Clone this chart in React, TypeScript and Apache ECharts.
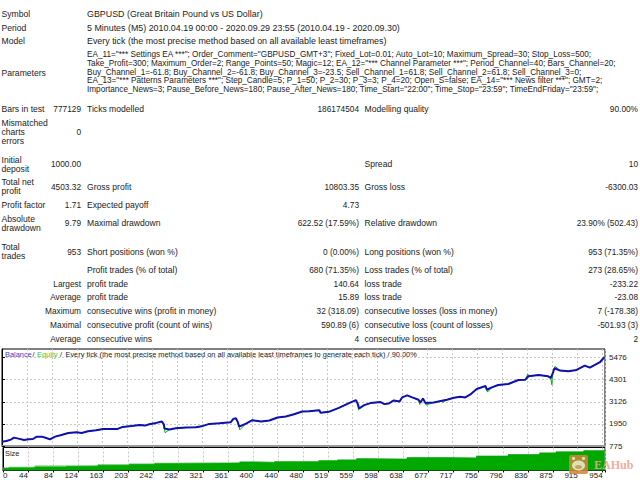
import React, { useEffect, useRef } from "react";
import * as echarts from "echarts";

const balanceTrades = [0,7,14,19,26,35,42,49,55,63,70,76,84,94,105,118,126,136,149,160,173,183,191,205,218,226,233,244,253,256,257,265,275,291,307,318,328,344,362,366,370,373,375,386,396,410,423,436,449,462,475,486,502,504,517,533,549,560,563,565,573,583,599,605,612,620,629,633,641,649,659,662,666,670,683,696,704,715,725,733,741,751,765,767,775,785,801,817,828,833,849,864,868,871,874,883,896,909,922,930,938,946,953];
const balanceValues = [1000,1041,1112,1219,1166,1095,1130,1148,1273,1273,1201,1130,1273,1362,1469,1504,1469,1558,1611,1682,1682,1682,1789,1843,1896,1860,1932,2003,2074,1932,1700,1647,1718,1753,1771,1843,1949,1985,2039,2217,2252,2056,1807,1967,2145,2074,2128,2288,2341,2466,2608,2626,2680,2537,2591,2804,3054,3214,3000,2769,2947,3054,3107,3000,3036,3196,3143,3356,3463,3356,3232,3089,3303,3054,3089,3178,3232,3339,3392,3356,3517,3802,3962,3766,3891,4015,4069,4283,4300,4479,4550,4479,4389,4603,4906,4781,4746,4817,5048,4941,5084,5227,5503];
const equityDipTrades = [258,376,564,661,671,697,768,832,870,875];
const equityDipValues = [1480,1630,2680,2980,2950,3090,3640,4600,4030,5010];

const sizeTrades = [0,9,50,100,150,200,240,265,330,375,400,430,500,530,560,570,640,700,750,800,850,876,920,953];
const sizeBase = [0.07,0.07,0.09,0.11,0.14,0.16,0.18,0.19,0.20,0.22,0.21,0.23,0.26,0.28,0.31,0.30,0.34,0.33,0.38,0.42,0.46,0.49,0.52,0.55];
const sizePeak = [0.07,0.10,0.13,0.14,0.16,0.18,0.20,0.21,0.21,0.24,0.23,0.25,0.27,0.29,0.32,0.31,0.35,0.34,0.39,0.43,0.47,0.50,0.53,0.56];

const xTickLabels = ["0","44","84","124","163","203","242","282","321","361","400","440","480","519","559","598","638","677","717","756","796","836","875","915","954"];
const yTickValues = [775,1950,3126,4301,5476];

const headerLabels = ["Symbol","Period","Model"];
const headerValues = [
  "GBPUSD (Great Britain Pound vs US Dollar)",
  "5 Minutes (M5) 2010.04.19 00:00 - 2020.09.29 23:55 (2010.04.19 - 2020.09.30)",
  "Every tick (the most precise method based on all available least timeframes)",
];
const parameterLines = [
  'EA_11="*** Settings EA ***"; Order_Comment="GBPUSD_GMT+3"; Fixed_Lot=0.01; Auto_Lot=10; Maximum_Spread=30; Stop_Loss=500;',
  'Take_Profit=300; Maximum_Order=2; Range_Points=50; Magic=12; EA_12="*** Channel Parameter ***"; Period_Channel=40; Bars_Channel=20;',
  "Buy_Channel_1=-61.8; Buy_Channel_2=-61.8; Buy_Channel_3=-23.5; Sell_Channel_1=61.8; Sell_Channel_2=61.8; Sell_Channel_3=0;",
  'EA_13="*** Patterns Parameters ***"; Step_Candle=5; P_1=50; P_2=30; P_3=3; P_4=20; Open_S=false; EA_14="*** News filter ***"; GMT=2;',
  'Importance_News=3; Pause_Before_News=180; Pause_After_News=180; Time_Start="22:00"; Time_Stop="23:59"; TimeEndFriday="23:59";',
];
const leftLabels: [string, number][] = [
  ["Parameters",72.5],["Bars in test",108.5],["Mismatched",122.5],["charts",131.5],["errors",140.5],
  ["Initial",160],["deposit",169],["Total net",182],["profit",191],["Profit factor",205],["Absolute",219],["drawdown",228],
  ["Total",247],["trades",256],
];
const col1Values: [string, number][] = [
  ["777129",108.5],["0",131.5],["1000.00",164],["4503.32",187],["1.71",205],["9.79",223],["953",252],
  ["Largest",284],["Average",297],["Maximum",311],["Maximal",325],["Average",339],
];
const col2Labels: [string, number][] = [
  ["Ticks modelled",108.5],["Gross profit",187],["Expected payoff",205],["Maximal drawdown",223],
  ["Short positions (won %)",252],["Profit trades (% of total)",270],["profit trade",284],["profit trade",297],
  ["consecutive wins (profit in money)",311],["consecutive profit (count of wins)",325],["consecutive wins",339],
];
const col2Values: [string, number][] = [
  ["186174504",108.5],["10803.35",187],["4.73",205],["622.52 (17.59%)",223],["0 (0.00%)",252],["680 (71.35%)",270],
  ["140.64",284],["15.89",297],["32 (318.09)",311],["590.89 (6)",325],["4",339],
];
const col3Labels: [string, number][] = [
  ["Modelling quality",108.5],["Spread",164],["Gross loss",187],["Relative drawdown",223],["Long positions (won %)",252],
  ["Loss trades (% of total)",270],["loss trade",284],["loss trade",297],["consecutive losses (loss in money)",311],
  ["consecutive loss (count of losses)",325],["consecutive losses",339],
];
const col3Values: [string, number][] = [
  ["90.00%",108.5],["10",164],["-6300.03",187],["23.90% (502.43)",223],["953 (71.35%)",252],["273 (28.65%)",270],
  ["-233.22",284],["-23.08",297],["7 (-178.38)",311],["-501.93 (3)",325],["2",339],
];

const FONT = '"Liberation Sans", sans-serif';
const FS_HEADER = 8.9;
const FS_LABEL = 8.6;
const FS_VALUE = 8.3;
const FS_PARAM = 8.2;
const FS_CHART = 7.4;
const FS_AXIS = 8;

const txt = (text: string, x: number, y: number, fontSize: number, align = "left", fill = "#222") => ({
  type: "text",
  x,
  y,
  silent: true,
  style: { text, fontFamily: FONT, fontSize, fill, align, verticalAlign: "middle" },
});

export default function App() {
  const ref = useRef<HTMLDivElement>(null);
  useEffect(() => {
    document.body.style.margin = "0";
    const chart = echarts.init(ref.current!, undefined, { renderer: "svg", width: 640, height: 480 });

    const balance = balanceTrades.map((t, i) => [t, balanceValues[i]]);
    const equity = [...balance, ...equityDipTrades.map((t, i) => [t, equityDipValues[i]])].sort((a, b) => a[0] - b[0]);

    const texts: any[] = [
      ...headerLabels.map((s, i) => txt(s, 1.5, [14, 27.5, 41][i], FS_LABEL)),
      ...headerValues.map((s, i) => txt(s, 87, [14, 27.5, 41][i], FS_HEADER)),
      ...parameterLines.map((s, i) => txt(s, 87, [54.5, 63.5, 72, 80.5, 89.5][i], FS_PARAM)),
      ...leftLabels.map(([s, y]) => txt(s, 1.5, y, FS_LABEL)),
      ...col1Values.map(([s, y]) => txt(s, 81, y, FS_VALUE, "right")),
      ...col2Labels.map(([s, y]) => txt(s, 87, y, FS_LABEL)),
      ...col2Values.map(([s, y]) => txt(s, 359, y, FS_VALUE, "right")),
      ...col3Labels.map(([s, y]) => txt(s, 364.5, y, FS_LABEL)),
      ...col3Values.map(([s, y]) => txt(s, 638, y, FS_VALUE, "right")),
      txt("Balance", 5, 354, FS_CHART, "left", "#3a3ac8"),
      txt("/", 32.5, 354, FS_CHART),
      txt("Equity", 37, 354, FS_CHART, "left", "#30cc30"),
      txt("/", 60, 354, FS_CHART),
      txt("Every tick (the most precise method based on all available least timeframes to generate each tick) / 90.00%", 65.5, 354, FS_CHART),
      txt("Size", 5, 453, FS_CHART),
    ];

    const watermark: any[] = [
      { type: "rect", z: 50, silent: true, shape: { x: 569, y: 455, width: 19, height: 19, r: 2 }, style: { fill: "#d2853a", opacity: 0.85 } },
      { type: "ellipse", z: 51, silent: true, shape: { cx: 578.5, cy: 465.5, rx: 6.5, ry: 5 }, style: { fill: "#d8e4b4" } },
      { type: "circle", z: 51, silent: true, shape: { cx: 573.5, cy: 458.5, r: 1.6 }, style: { fill: "#d8e4b4" } },
      { type: "circle", z: 51, silent: true, shape: { cx: 583.5, cy: 458.5, r: 1.6 }, style: { fill: "#d8e4b4" } },
      { type: "ellipse", z: 52, silent: true, shape: { cx: 578.5, cy: 467, rx: 3.5, ry: 2 }, style: { fill: "#c9a060" } },
      {
        type: "text", z: 52, silent: true, x: 594, y: 464.5,
        style: { text: "EAHub", fontFamily: '"Liberation Serif", serif', fontWeight: "bold", fontSize: 12, fill: "#f4a090", opacity: 0.9, align: "left", verticalAlign: "middle" },
      },
    ];

    const split = { show: true, lineStyle: { color: "#c8c8c8", type: [2, 2] as any, width: 1 } };

    chart.setOption({
      animation: false,
      backgroundColor: "#fff",
      textStyle: { fontFamily: FONT },
      graphic: [...texts, ...watermark],
      grid: [
        { left: 2, right: 35, top: 349, height: 97, show: true, borderColor: "#000", borderWidth: 1, backgroundColor: "#fff" },
        { left: 2, right: 35, top: 447.5, height: 23, show: true, borderColor: "#000", borderWidth: 1, backgroundColor: "#fff" },
      ],
      xAxis: [
        {
          gridIndex: 0, type: "value", min: 0, max: 954, interval: 39.6,
          axisLabel: { show: false }, axisTick: { show: false },
          axisLine: { show: true, lineStyle: { color: "#9a9a9a", width: 2 } }, splitLine: split,
        },
        {
          gridIndex: 1, type: "value", min: 0, max: 954, interval: 39.6,
          axisLine: { show: true, lineStyle: { color: "#000" } },
          axisTick: { show: true, length: 2, lineStyle: { color: "#000" } },
          splitLine: split,
          axisLabel: {
            show: true, color: "#222", fontSize: FS_AXIS, fontFamily: FONT, margin: 1, align: "right",
            alignMinLabel: "left", hideOverlap: false,
            formatter: (_: number, i: number) => xTickLabels[i] ?? "",
          },
        },
      ],
      yAxis: [
        {
          gridIndex: 0, type: "value", position: "right", min: 775, max: 5930,
          axisLine: { show: true, lineStyle: { color: "#000" } },
          axisTick: { show: true, length: 3, lineStyle: { color: "#000" }, customValues: yTickValues },
          axisLabel: { show: true, color: "#222", fontSize: FS_AXIS, fontFamily: FONT, margin: 4, customValues: yTickValues, formatter: (v: number) => String(v) },
          splitLine: split,
        },
        {
          gridIndex: 1, type: "value", position: "right", min: 0, max: 0.6,
          axisLine: { show: true, lineStyle: { color: "#000" } },
          axisTick: { show: false }, axisLabel: { show: false }, splitLine: { show: false },
        },
      ],
      series: [
        {
          name: "Equity", type: "line", xAxisIndex: 0, yAxisIndex: 0, data: equity, symbol: "none", z: 2,
          lineStyle: { color: "#00b400", width: 1 },
        },
        {
          name: "Balance", type: "line", xAxisIndex: 0, yAxisIndex: 0, data: balance, symbol: "none", z: 3,
          lineStyle: { color: "#1010b0", width: 2 },
        },
        {
          name: "Size peak", type: "line", step: "end", xAxisIndex: 1, yAxisIndex: 1, symbol: "none", z: 2,
          data: sizeTrades.map((t, i) => [t, sizePeak[i]]),
          lineStyle: { width: 0 }, areaStyle: { color: "#5cc45c", opacity: 1 },
        },
        {
          name: "Size", type: "line", step: "end", xAxisIndex: 1, yAxisIndex: 1, symbol: "none", z: 3,
          data: sizeTrades.map((t, i) => [t, sizeBase[i]]),
          lineStyle: { width: 0 }, areaStyle: { color: "#00a800", opacity: 1 },
        },
      ],
    });
    return () => chart.dispose();
  }, []);
  return <div ref={ref} style={{ position: "absolute", left: 0, top: 0, width: 640, height: 480 }} />;
}
